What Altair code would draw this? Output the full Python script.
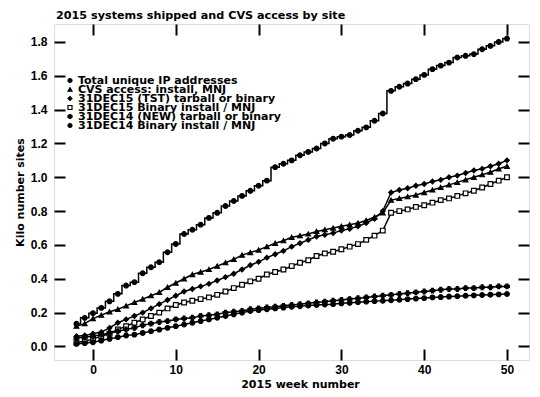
import altair as alt
import pandas as pd

weeks = list(range(-2, 51))

series_names = [
    "Total unique IP addresses",
    "CVS access: install, MNJ",
    "31DEC15 (TST) tarball or binary",
    "31DEC15 Binary install / MNJ",
    "31DEC14 (NEW) tarball or binary",
    "31DEC14 Binary install / MNJ",
]

total_ip = [0.134, 0.169, 0.197, 0.228, 0.267, 0.311, 0.36, 0.38, 0.433, 0.468,
            0.498, 0.557, 0.606, 0.665, 0.69, 0.72, 0.76, 0.79, 0.83, 0.86,
            0.89, 0.92, 0.95, 0.98, 1.06, 1.08, 1.10, 1.13, 1.15, 1.17,
            1.20, 1.228, 1.24, 1.25, 1.275, 1.295, 1.334, 1.377, 1.511, 1.535,
            1.554, 1.58, 1.605, 1.639, 1.66, 1.678, 1.708, 1.718, 1.728, 1.757,
            1.777, 1.80, 1.82]

cvs_access = [0.12, 0.135, 0.165, 0.185, 0.205, 0.22, 0.24, 0.26, 0.28, 0.30,
              0.32, 0.35, 0.375, 0.40, 0.425, 0.44, 0.455, 0.475, 0.495, 0.515,
              0.54, 0.555, 0.57, 0.59, 0.61, 0.625, 0.645, 0.655, 0.665, 0.68,
              0.69, 0.70, 0.71, 0.72, 0.73, 0.745, 0.765, 0.79, 0.865, 0.875,
              0.885, 0.895, 0.91, 0.925, 0.94, 0.955, 0.97, 0.985, 1.0, 1.015,
              1.03, 1.05, 1.065]

dec15_tst = [0.06, 0.065, 0.075, 0.085, 0.11, 0.14, 0.16, 0.18, 0.20, 0.225,
             0.25, 0.275, 0.30, 0.325, 0.34, 0.355, 0.37, 0.39, 0.41, 0.43,
             0.455, 0.48, 0.50, 0.525, 0.545, 0.565, 0.59, 0.61, 0.63, 0.65,
             0.66, 0.67, 0.685, 0.695, 0.71, 0.73, 0.755, 0.80, 0.91, 0.925,
             0.935, 0.95, 0.96, 0.975, 0.985, 1.0, 1.01, 1.025, 1.04, 1.05,
             1.065, 1.08, 1.10]

dec15_bin = [0.025, 0.03, 0.045, 0.06, 0.075, 0.10, 0.12, 0.14, 0.16, 0.18,
             0.20, 0.225, 0.245, 0.26, 0.27, 0.28, 0.29, 0.305, 0.325, 0.345,
             0.365, 0.385, 0.40, 0.425, 0.44, 0.455, 0.475, 0.495, 0.51, 0.535,
             0.55, 0.56, 0.575, 0.59, 0.605, 0.63, 0.655, 0.685, 0.79, 0.80,
             0.81, 0.825, 0.835, 0.85, 0.865, 0.875, 0.89, 0.905, 0.92, 0.94,
             0.96, 0.98, 1.0]

dec14_new = [0.05, 0.055, 0.06, 0.07, 0.08, 0.09, 0.10, 0.11, 0.125, 0.135,
             0.145, 0.15, 0.16, 0.165, 0.17, 0.18, 0.185, 0.19, 0.20, 0.205,
             0.21, 0.22, 0.225, 0.23, 0.235, 0.24, 0.245, 0.25, 0.255, 0.26,
             0.265, 0.27, 0.275, 0.28, 0.285, 0.29, 0.295, 0.30, 0.305, 0.31,
             0.315, 0.32, 0.325, 0.33, 0.335, 0.34, 0.34, 0.345, 0.345, 0.35,
             0.35, 0.355, 0.355]

dec14_bin = [0.015, 0.02, 0.025, 0.035, 0.045, 0.055, 0.065, 0.07, 0.08, 0.09,
             0.10, 0.11, 0.12, 0.13, 0.14, 0.15, 0.16, 0.17, 0.18, 0.19,
             0.20, 0.21, 0.215, 0.22, 0.225, 0.23, 0.235, 0.238, 0.242, 0.245,
             0.248, 0.25, 0.255, 0.258, 0.262, 0.265, 0.268, 0.27, 0.273, 0.276,
             0.28, 0.283, 0.286, 0.29, 0.292, 0.295, 0.297, 0.30, 0.302, 0.304,
             0.306, 0.308, 0.31]

x_ticks = [0, 10, 20, 30, 40, 50]
y_ticks = [0.0, 0.2, 0.4, 0.6, 0.8, 1.0, 1.2, 1.4, 1.6, 1.8]

all_series = [total_ip, cvs_access, dec15_tst, dec15_bin, dec14_new, dec14_bin]
rows = []
for name, vals in zip(series_names, all_series):
    assert len(vals) == len(weeks)
    for w, v in zip(weeks, vals):
        rows.append({"week": w, "value": v, "series": name})
df = pd.DataFrame(rows)
legend_df = pd.DataFrame({"series": series_names, "row": list(range(len(series_names)))})

FONT = "DejaVu Sans"
TICKFONT = "Liberation Sans"
xscale = alt.Scale(domain=[-4.71, 52.66], nice=False, zero=False)
yscale = alt.Scale(domain=[-0.080, 1.906], nice=False, zero=False)

common_axis = dict(offset=-11, tickSize=11, tickWidth=2, tickColor="black",
                   domain=False, grid=False, labelColor="black", titleColor="black",
                   labelFont=TICKFONT, titleFont=FONT, labelFontWeight="bold",
                   titleFontWeight="bold", labelFontSize=12, titleFontSize=11)

bottom_axis = alt.Axis(orient="bottom", values=x_ticks, format="d",
                       title="2015 week number", labelPadding=4, titlePadding=3,
                       titleX=246, titleAlign="center", **common_axis)
left_axis = alt.Axis(orient="left", values=y_ticks, format=".1f",
                     title="Kilo number sites", labelPadding=7, titlePadding=5,
                     **common_axis)
top_axis = alt.Axis(orient="top", values=x_ticks, labels=False, **common_axis)
right_axis = alt.Axis(orient="right", values=y_ticks, labels=False, **common_axis)

shape_scale = alt.Scale(domain=series_names,
                        range=["circle", "triangle-up", "diamond", "square", "cross", "circle"])
fill_scale = alt.Scale(domain=series_names,
                       range=["black", "black", "black", "white", "black", "black"])
stroke_scale = alt.Scale(domain=series_names,
                         range=["black", "black", "black", "black", "black", "black"])

base = alt.Chart(df)
x_enc = alt.X("week:Q", scale=xscale, axis=bottom_axis)
y_enc = alt.Y("value:Q", scale=yscale, axis=left_axis)

step_line = base.transform_filter(
    alt.datum.series == series_names[0]
).mark_line(interpolate="step", color="black", strokeWidth=1.5).encode(
    x=x_enc, y=y_enc, detail="series:N")

lin_lines = base.transform_filter(
    alt.datum.series != series_names[0]
).mark_line(color="black", strokeWidth=1.5).encode(
    x=x_enc, y=y_enc, detail="series:N")

points = base.mark_point(size=22, strokeWidth=1.2, opacity=1).encode(
    x=x_enc, y=y_enc,
    shape=alt.Shape("series:N", scale=shape_scale, legend=None),
    fill=alt.Fill("series:N", scale=fill_scale, legend=None),
    stroke=alt.Stroke("series:N", scale=stroke_scale, legend=None),
)

data_layer = alt.layer(step_line, lin_lines, points)

ghost = alt.Chart(pd.DataFrame({"week": [0], "value": [0.0]})).mark_point(opacity=0).encode(
    x=alt.X("week:Q", scale=xscale, axis=top_axis, title=None),
    y=alt.Y("value:Q", scale=yscale, axis=right_axis, title=None),
)

# in-plot legend (key), rows spaced tightly like the original
legend_y = alt.Y("row:Q", scale=alt.Scale(domain=[0, 5], range=[56.5, 101.5]), axis=None)
legend_sym = alt.Chart(legend_df).mark_point(size=16, strokeWidth=1.2, opacity=1).encode(
    x=alt.value(16), y=legend_y,
    shape=alt.Shape("series:N", scale=shape_scale, legend=None),
    fill=alt.Fill("series:N", scale=fill_scale, legend=None),
    stroke=alt.Stroke("series:N", scale=stroke_scale, legend=None),
)
legend_txt = alt.Chart(legend_df).mark_text(
    align="left", baseline="middle", fontSize=11, fontWeight="bold", font=FONT, color="black"
).encode(x=alt.value(24), y=legend_y, text="series:N")
legend_layer = alt.layer(legend_sym, legend_txt)

chart = alt.layer(data_layer, ghost, legend_layer).resolve_scale(
    y="independent"
).resolve_axis(
    x="independent", y="independent"
).properties(
    width=475, height=336,
    autosize=alt.AutoSizeParams(type="none"),
    padding={"left": 46, "top": 16, "right": 3, "bottom": 29},
    title=alt.TitleParams("2015 systems shipped and CVS access by site",
                          anchor="start", frame="group", fontSize=11.2,
                          fontWeight="bold", font=FONT, color="black",
                          offset=2, dx=2),
).configure_view(stroke="black", strokeWidth=2).configure(font=FONT, background="white")

chart.save("out.html", embed_options={"renderer": "svg", "actions": False})
